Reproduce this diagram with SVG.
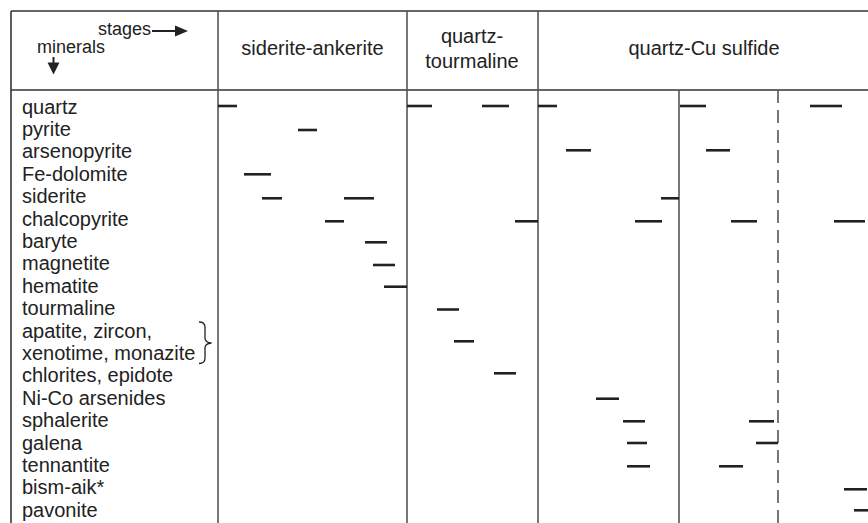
<svg xmlns="http://www.w3.org/2000/svg" width="868" height="523" viewBox="0 0 868 523">
<style>
text{font-family:"Liberation Sans",Arial,sans-serif;fill:#222}
.lbl{font-size:20px}
.hd{font-size:20px;text-anchor:middle}
.ax{font-size:18px}
.grid{stroke:#333;stroke-width:1.6;fill:none}
.col{stroke:#555;stroke-width:1.6;fill:none}
.dash{stroke:#555;stroke-width:1.6;stroke-dasharray:13 7;fill:none}
.bar{stroke:#222;stroke-width:2.6}
</style>
<g id="frame">
<line class="grid" x1="11" y1="11" x2="868" y2="11"/>
<line class="grid" x1="11" y1="90" x2="868" y2="90"/>
<line class="grid" x1="11" y1="11" x2="11" y2="523"/>
<line class="col" x1="218" y1="11" x2="218" y2="523"/>
<line class="col" x1="407" y1="11" x2="407" y2="523"/>
<line class="col" x1="538" y1="11" x2="538" y2="523"/>
<line class="col" x1="679" y1="90" x2="679" y2="523"/>
<line class="dash" x1="778" y1="90" x2="778" y2="523"/>
</g>
<g id="header">
<text class="ax" x="98" y="35">stages</text>
<line x1="152" y1="31" x2="177" y2="31" stroke="#222" stroke-width="2"/>
<path d="M175,25.5 L188,31 L175,36.5 Z" fill="#222"/>
<text class="ax" x="37" y="52.5">minerals</text>
<line x1="53.5" y1="57" x2="53.5" y2="64" stroke="#222" stroke-width="2"/>
<path d="M47.5,62.5 L59.5,62.5 L53.5,74.5 Z" fill="#222"/>
<text class="hd" x="312.5" y="55">siderite-ankerite</text>
<text class="hd" x="472" y="43">quartz-</text>
<text class="hd" x="472" y="68">tourmaline</text>
<text class="hd" x="704" y="55">quartz-Cu sulfide</text>
</g>
<g id="labels" class="lbl">
<text x="22" y="113.5">quartz</text>
<text x="22" y="135.9">pyrite</text>
<text x="22" y="158.3">arsenopyrite</text>
<text x="22" y="180.7">Fe-dolomite</text>
<text x="22" y="203.1">siderite</text>
<text x="22" y="225.5">chalcopyrite</text>
<text x="22" y="247.9">baryte</text>
<text x="22" y="270.3">magnetite</text>
<text x="22" y="292.7">hematite</text>
<text x="22" y="315.1">tourmaline</text>
<text x="22" y="337.5">apatite, zircon,</text>
<text x="22" y="359.9">xenotime, monazite</text>
<text x="22" y="382.3">chlorites, epidote</text>
<text x="22" y="404.7">Ni-Co arsenides</text>
<text x="22" y="427.1">sphalerite</text>
<text x="22" y="449.5">galena</text>
<text x="22" y="471.9">tennantite</text>
<text x="22" y="494.3">bism-aik*</text>
<text x="22" y="516.7">pavonite</text>
<path d="M199,322 Q205,322 205,327 L205,338 Q205,342.5 211.5,343 Q205,343.5 205,348 L205,358 Q205,363.5 199,363.5" fill="none" stroke="#222" stroke-width="1.3"/>
</g>
<g id="bars">
<line class="bar" x1="218" y1="106" x2="237" y2="106"/>
<line class="bar" x1="407" y1="106" x2="432" y2="106"/>
<line class="bar" x1="482" y1="106" x2="509" y2="106"/>
<line class="bar" x1="538" y1="106" x2="557" y2="106"/>
<line class="bar" x1="680" y1="106" x2="706" y2="106"/>
<line class="bar" x1="810" y1="106" x2="842" y2="106"/>
<line class="bar" x1="298" y1="130" x2="317" y2="130"/>
<line class="bar" x1="566" y1="150.3" x2="591" y2="150.3"/>
<line class="bar" x1="706" y1="150.3" x2="730" y2="150.3"/>
<line class="bar" x1="244" y1="174.3" x2="271" y2="174.3"/>
<line class="bar" x1="262" y1="198.3" x2="282" y2="198.3"/>
<line class="bar" x1="344" y1="198.3" x2="374" y2="198.3"/>
<line class="bar" x1="661" y1="198.3" x2="679" y2="198.3"/>
<line class="bar" x1="325" y1="221.3" x2="344" y2="221.3"/>
<line class="bar" x1="515" y1="221.3" x2="538" y2="221.3"/>
<line class="bar" x1="635" y1="221.3" x2="662" y2="221.3"/>
<line class="bar" x1="731" y1="221.3" x2="757" y2="221.3"/>
<line class="bar" x1="834" y1="221.3" x2="865" y2="221.3"/>
<line class="bar" x1="365" y1="242.3" x2="387" y2="242.3"/>
<line class="bar" x1="373" y1="265" x2="395" y2="265"/>
<line class="bar" x1="384" y1="286.7" x2="407" y2="286.7"/>
<line class="bar" x1="437" y1="309.5" x2="459" y2="309.5"/>
<line class="bar" x1="454" y1="341.3" x2="474" y2="341.3"/>
<line class="bar" x1="494" y1="373.3" x2="516" y2="373.3"/>
<line class="bar" x1="596" y1="398.7" x2="619" y2="398.7"/>
<line class="bar" x1="623" y1="421.3" x2="645" y2="421.3"/>
<line class="bar" x1="749" y1="421.3" x2="774" y2="421.3"/>
<line class="bar" x1="627" y1="443" x2="647" y2="443"/>
<line class="bar" x1="756" y1="443" x2="778" y2="443"/>
<line class="bar" x1="627" y1="466.3" x2="650" y2="466.3"/>
<line class="bar" x1="719" y1="466.3" x2="743" y2="466.3"/>
<line class="bar" x1="844" y1="489.3" x2="867" y2="489.3"/>
<line class="bar" x1="854" y1="510.3" x2="868" y2="510.3"/>
</g>
</svg>
